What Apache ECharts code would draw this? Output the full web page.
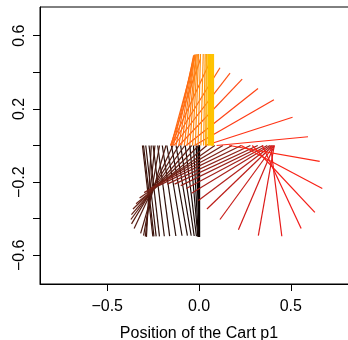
<!DOCTYPE html>
<html>
<head>
<meta charset="utf-8">
<script src="https://cdn.jsdelivr.net/npm/echarts@6/dist/echarts.min.js"></script>
<style>
  html, body { margin: 0; padding: 0; background: #fff; }
  #main { width: 348px; height: 340px; }
</style>
</head>
<body>
<div id="main"></div>
<script>
// cart position p1 for each frame, in time order
const cartP1 = [
  0, 0, 0, -0.002,
  -0.006, -0.015, -0.03, -0.05, -0.075, -0.10, -0.125, -0.15, -0.175, -0.20, -0.225, -0.25, -0.272, -0.29, -0.302, -0.308,
  -0.26, -0.24, -0.215, -0.18, -0.142, -0.11, -0.077, -0.04, 0.0, 0.043, 0.086,
  0.13, 0.18, 0.23, 0.28, 0.32, 0.35, 0.372, 0.386,
  0.396, 0.403, 0.408, 0.41, 0.41, 0.39, 0.345, 0.29, 0.23, 0.165, 0.096,
  0.034, -0.025, -0.07, -0.109, -0.136, -0.149,
  -0.153, -0.155, -0.152, -0.14, -0.125, -0.11, -0.095, -0.08, -0.065, -0.05, -0.035, -0.02, -0.005, 0.01, 0.025,
  0.036, 0.042, 0.048, 0.053, 0.058, 0.062, 0.066, 0.07, 0.073, 0.076, 0.072, 0.068, 0.065
];
// pendulum angle in degrees (0 = hanging down, positive = bob right of cart)
const angleDeg = [
  0, 0, 0.2, 0.5,
  0.7, 1.7, 3, 5, 7, 8.5, 9.5, 10, 9.5, 8.5, 7.5, 7, 6.5, 6.5, 6.5, 6.5,
  -3, -6, -10, -16, -25, -31, -36, -41, -46, -50.5, -55,
  -59, -62, -64, -65, -65, -64, -62, -58.5,
  -53, -46, -36, -23, -10, 7, 25, 43, 62, 80, 95.5,
  108, 120, 128.5, 136.5, 142.4, 148.2,
  155, 161, 165, 167, 169, 170.5, 172, 173.5, 174.5, 176, 177, 178, 178.5, 178.5, 179,
  179.5, 179.7, 180, 180, 180, 180, 180, 180, 180, 180, 180, 180, 180
];
const rodLength = 0.5;

const xTicks = [-0.5, 0, 0.5];
const yTicks = [-0.6, -0.4, -0.2, 0, 0.2, 0.4, 0.6];
const yLabels = [-0.6, -0.2, 0.2, 0.6];

// black -> brown -> red -> orange -> gold, along time
const ramp = [
  [0.00, [0, 0, 0]],
  [0.23, [61, 20, 12]],
  [0.36, [110, 34, 22]],
  [0.46, [168, 32, 26]],
  [0.54, [240, 24, 24]],
  [0.59, [255, 42, 20]],
  [0.66, [255, 90, 20]],
  [0.84, [255, 150, 16]],
  [0.88, [255, 190, 0]],
  [1.00, [255, 196, 0]]
];
function rampColor(t) {
  for (let k = 1; k < ramp.length; k++) {
    if (t <= ramp[k][0]) {
      const a = ramp[k - 1], b = ramp[k];
      const f = (t - a[0]) / (b[0] - a[0]);
      const c = a[1].map((v, j) => Math.round(v + (b[1][j] - v) * f));
      return 'rgb(' + c.join(',') + ')';
    }
  }
  return 'rgb(255,196,0)';
}

const n = cartP1.length;
const segments = cartP1.map((p, i) => {
  const a = angleDeg[i] * Math.PI / 180;
  return {
    coords: [[p, 0], [p + rodLength * Math.sin(a), -rodLength * Math.cos(a)]],
    lineStyle: { color: rampColor(i / (n - 1)) }
  };
});

const font = 'Liberation Sans, Arial, Helvetica, sans-serif';
const fmt = v => (v < 0 ? '\u2212' : '') + Math.abs(v).toFixed(1);

const chart = echarts.init(document.getElementById('main'), null, { renderer: 'canvas' });
chart.setOption({
  animation: false,
  backgroundColor: '#fff',
  grid: {
    left: 40, width: 318, top: 7, bottom: 56,
    outerBoundsMode: 'none',
    show: true, borderColor: '#000', borderWidth: 1
  },
  xAxis: {
    type: 'value',
    min: -0.866, max: 0.866,
    splitLine: { show: false },
    axisLine: { show: true, onZero: false, lineStyle: { color: '#000', width: 1 } },
    axisTick: { show: true, length: 7, customValues: xTicks, lineStyle: { color: '#000' } },
    axisLabel: { customValues: xTicks, formatter: fmt, fontSize: 16, color: '#000', margin: 15, fontFamily: font },
    name: 'Position of the Cart p1',
    nameLocation: 'middle',
    nameGap: 42,
    nameTextStyle: { fontSize: 16, color: '#000', fontFamily: font }
  },
  yAxis: {
    type: 'value',
    min: -0.757, max: 0.757,
    splitLine: { show: false },
    axisLine: { show: true, onZero: false, lineStyle: { color: '#000', width: 1 } },
    axisTick: { show: true, length: 7, customValues: yTicks, lineStyle: { color: '#000' } },
    axisLabel: { customValues: yLabels, formatter: fmt, rotate: 90, fontSize: 16, color: '#000', margin: 12, fontFamily: font }
  },
  series: [{
    type: 'lines',
    coordinateSystem: 'cartesian2d',
    silent: true,
    lineStyle: { width: 1.2, opacity: 1 },
    data: segments
  }]
});
</script>
</body>
</html>
